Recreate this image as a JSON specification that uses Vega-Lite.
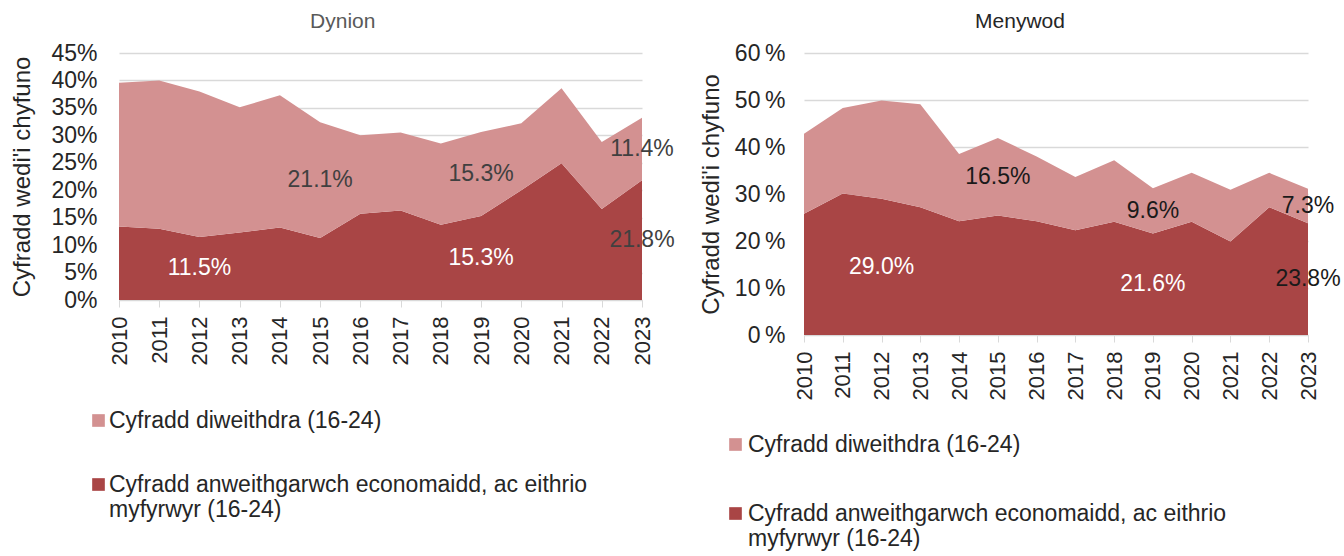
{
  "$schema": "https://vega.github.io/schema/vega-lite/v6.json",
  "background": "white",
  "padding": {"left": 10, "top": 11, "right": 0, "bottom": 0},
  "config": {
    "font": "Liberation Sans",
    "view": {"stroke": null},
    "axis": {"labelFont": "Liberation Sans", "titleFont": "Liberation Sans"},
    "legend": {"labelFont": "Liberation Sans"}
  },
  "datasets": {
    "d": [
      {"sex": "Dynion", "year": 2010, "series": "Cyfradd anweithgarwch economaidd, ac eithrio myfyrwyr (16-24)", "value": 0.134},
      {"sex": "Dynion", "year": 2011, "series": "Cyfradd anweithgarwch economaidd, ac eithrio myfyrwyr (16-24)", "value": 0.130},
      {"sex": "Dynion", "year": 2012, "series": "Cyfradd anweithgarwch economaidd, ac eithrio myfyrwyr (16-24)", "value": 0.115},
      {"sex": "Dynion", "year": 2013, "series": "Cyfradd anweithgarwch economaidd, ac eithrio myfyrwyr (16-24)", "value": 0.123},
      {"sex": "Dynion", "year": 2014, "series": "Cyfradd anweithgarwch economaidd, ac eithrio myfyrwyr (16-24)", "value": 0.132},
      {"sex": "Dynion", "year": 2015, "series": "Cyfradd anweithgarwch economaidd, ac eithrio myfyrwyr (16-24)", "value": 0.113},
      {"sex": "Dynion", "year": 2016, "series": "Cyfradd anweithgarwch economaidd, ac eithrio myfyrwyr (16-24)", "value": 0.157},
      {"sex": "Dynion", "year": 2017, "series": "Cyfradd anweithgarwch economaidd, ac eithrio myfyrwyr (16-24)", "value": 0.163},
      {"sex": "Dynion", "year": 2018, "series": "Cyfradd anweithgarwch economaidd, ac eithrio myfyrwyr (16-24)", "value": 0.137},
      {"sex": "Dynion", "year": 2019, "series": "Cyfradd anweithgarwch economaidd, ac eithrio myfyrwyr (16-24)", "value": 0.153},
      {"sex": "Dynion", "year": 2020, "series": "Cyfradd anweithgarwch economaidd, ac eithrio myfyrwyr (16-24)", "value": 0.200},
      {"sex": "Dynion", "year": 2021, "series": "Cyfradd anweithgarwch economaidd, ac eithrio myfyrwyr (16-24)", "value": 0.249},
      {"sex": "Dynion", "year": 2022, "series": "Cyfradd anweithgarwch economaidd, ac eithrio myfyrwyr (16-24)", "value": 0.166},
      {"sex": "Dynion", "year": 2023, "series": "Cyfradd anweithgarwch economaidd, ac eithrio myfyrwyr (16-24)", "value": 0.218},
      {"sex": "Dynion", "year": 2010, "series": "Cyfradd diweithdra (16-24)", "value": 0.262},
      {"sex": "Dynion", "year": 2011, "series": "Cyfradd diweithdra (16-24)", "value": 0.270},
      {"sex": "Dynion", "year": 2012, "series": "Cyfradd diweithdra (16-24)", "value": 0.265},
      {"sex": "Dynion", "year": 2013, "series": "Cyfradd diweithdra (16-24)", "value": 0.228},
      {"sex": "Dynion", "year": 2014, "series": "Cyfradd diweithdra (16-24)", "value": 0.241},
      {"sex": "Dynion", "year": 2015, "series": "Cyfradd diweithdra (16-24)", "value": 0.211},
      {"sex": "Dynion", "year": 2016, "series": "Cyfradd diweithdra (16-24)", "value": 0.143},
      {"sex": "Dynion", "year": 2017, "series": "Cyfradd diweithdra (16-24)", "value": 0.142},
      {"sex": "Dynion", "year": 2018, "series": "Cyfradd diweithdra (16-24)", "value": 0.148},
      {"sex": "Dynion", "year": 2019, "series": "Cyfradd diweithdra (16-24)", "value": 0.153},
      {"sex": "Dynion", "year": 2020, "series": "Cyfradd diweithdra (16-24)", "value": 0.122},
      {"sex": "Dynion", "year": 2021, "series": "Cyfradd diweithdra (16-24)", "value": 0.137},
      {"sex": "Dynion", "year": 2022, "series": "Cyfradd diweithdra (16-24)", "value": 0.122},
      {"sex": "Dynion", "year": 2023, "series": "Cyfradd diweithdra (16-24)", "value": 0.114},
      {"sex": "Menywod", "year": 2010, "series": "Cyfradd anweithgarwch economaidd, ac eithrio myfyrwyr (16-24)", "value": 0.258},
      {"sex": "Menywod", "year": 2011, "series": "Cyfradd anweithgarwch economaidd, ac eithrio myfyrwyr (16-24)", "value": 0.301},
      {"sex": "Menywod", "year": 2012, "series": "Cyfradd anweithgarwch economaidd, ac eithrio myfyrwyr (16-24)", "value": 0.290},
      {"sex": "Menywod", "year": 2013, "series": "Cyfradd anweithgarwch economaidd, ac eithrio myfyrwyr (16-24)", "value": 0.272},
      {"sex": "Menywod", "year": 2014, "series": "Cyfradd anweithgarwch economaidd, ac eithrio myfyrwyr (16-24)", "value": 0.242},
      {"sex": "Menywod", "year": 2015, "series": "Cyfradd anweithgarwch economaidd, ac eithrio myfyrwyr (16-24)", "value": 0.254},
      {"sex": "Menywod", "year": 2016, "series": "Cyfradd anweithgarwch economaidd, ac eithrio myfyrwyr (16-24)", "value": 0.242},
      {"sex": "Menywod", "year": 2017, "series": "Cyfradd anweithgarwch economaidd, ac eithrio myfyrwyr (16-24)", "value": 0.223},
      {"sex": "Menywod", "year": 2018, "series": "Cyfradd anweithgarwch economaidd, ac eithrio myfyrwyr (16-24)", "value": 0.241},
      {"sex": "Menywod", "year": 2019, "series": "Cyfradd anweithgarwch economaidd, ac eithrio myfyrwyr (16-24)", "value": 0.216},
      {"sex": "Menywod", "year": 2020, "series": "Cyfradd anweithgarwch economaidd, ac eithrio myfyrwyr (16-24)", "value": 0.241},
      {"sex": "Menywod", "year": 2021, "series": "Cyfradd anweithgarwch economaidd, ac eithrio myfyrwyr (16-24)", "value": 0.199},
      {"sex": "Menywod", "year": 2022, "series": "Cyfradd anweithgarwch economaidd, ac eithrio myfyrwyr (16-24)", "value": 0.272},
      {"sex": "Menywod", "year": 2023, "series": "Cyfradd anweithgarwch economaidd, ac eithrio myfyrwyr (16-24)", "value": 0.238},
      {"sex": "Menywod", "year": 2010, "series": "Cyfradd diweithdra (16-24)", "value": 0.170},
      {"sex": "Menywod", "year": 2011, "series": "Cyfradd diweithdra (16-24)", "value": 0.182},
      {"sex": "Menywod", "year": 2012, "series": "Cyfradd diweithdra (16-24)", "value": 0.209},
      {"sex": "Menywod", "year": 2013, "series": "Cyfradd diweithdra (16-24)", "value": 0.219},
      {"sex": "Menywod", "year": 2014, "series": "Cyfradd diweithdra (16-24)", "value": 0.143},
      {"sex": "Menywod", "year": 2015, "series": "Cyfradd diweithdra (16-24)", "value": 0.165},
      {"sex": "Menywod", "year": 2016, "series": "Cyfradd diweithdra (16-24)", "value": 0.138},
      {"sex": "Menywod", "year": 2017, "series": "Cyfradd diweithdra (16-24)", "value": 0.113},
      {"sex": "Menywod", "year": 2018, "series": "Cyfradd diweithdra (16-24)", "value": 0.131},
      {"sex": "Menywod", "year": 2019, "series": "Cyfradd diweithdra (16-24)", "value": 0.096},
      {"sex": "Menywod", "year": 2020, "series": "Cyfradd diweithdra (16-24)", "value": 0.104},
      {"sex": "Menywod", "year": 2021, "series": "Cyfradd diweithdra (16-24)", "value": 0.110},
      {"sex": "Menywod", "year": 2022, "series": "Cyfradd diweithdra (16-24)", "value": 0.073},
      {"sex": "Menywod", "year": 2023, "series": "Cyfradd diweithdra (16-24)", "value": 0.073}
    ]
  },
  "spacing": 24,
  "resolve": {"scale": {"color": "independent", "y": "independent"}, "legend": {"color": "independent"}},
  "hconcat": [
    {
      "title": {"text": "Dynion", "frame": "bounds", "anchor": "middle", "color": "#595959", "fontSize": 21, "fontWeight": "normal", "font": "Liberation Sans", "offset": 10},
      "width": 523,
      "height": 247,
      "data": {"name": "d"},
      "transform": [{"filter": "datum.sex === 'Dynion'"}],
      "encoding": {
        "x": {"field": "year", "type": "ordinal", "scale": {"type": "point", "padding": 0},
          "axis": {"title": null, "labelAngle": 270, "labelFontSize": 22, "labelColor": "#262626", "ticks": true, "tickColor": "#d9d9d9", "tickSize": 7, "domain": true, "domainColor": "#d9d9d9", "labelPadding": 9, "grid": false, "labelOverlap": false, "labelFlush": false}},
        "y": {"field": "value", "type": "quantitative", "stack": "zero", "scale": {"domain": [0, 0.45]},
          "axis": {"values": [0, 0.05, 0.1, 0.15, 0.2, 0.25, 0.3, 0.35, 0.4, 0.45], "format": ".0%", "labelFontSize": 23, "labelColor": "#262626", "grid": true, "gridColor": "#d9d9d9", "gridWidth": 1.5, "domain": false, "ticks": false, "labelPadding": 22, "labelOverlap": false, "title": "Cyfradd wedi'i chyfuno", "titleFontSize": 24, "titleFontWeight": "normal", "titleColor": "#262626", "titlePadding": 16}},
        "order": {"field": "series", "sort": "ascending"}
      },
      "layer": [
        {
          "mark": {"type": "area", "opacity": 1},
          "encoding": {
            "color": {"field": "series", "type": "nominal",
              "scale": {"domain": ["Cyfradd diweithdra (16-24)", "Cyfradd anweithgarwch economaidd, ac eithrio myfyrwyr (16-24)"], "range": ["#D39191", "#A94545"]},
              "legend": {"title": null, "orient": "none", "legendX": -32, "legendY": 356, "direction": "vertical", "symbolType": "square", "symbolSize": 160, "symbolStrokeWidth": 0, "labelFontSize": 23, "labelColor": "#262626", "labelOffset": -1, "labelLimit": 800, "rowPadding": 40, "labelBaseline": "middle",
                "labelExpr": "indexof(datum.label,'anweithgarwch')>=0 ? ['Cyfradd anweithgarwch economaidd, ac eithrio','myfyrwyr (16-24)'] : datum.label",
                "encode": {"labels": {"update": {"dy": {"signal": "indexof(datum.value,'anweithgarwch')>=0 ? 12.5 : 0"}}}}}
            }
          }
        },
        {
          "mark": {"type": "text", "fontSize": 23, "font": "Liberation Sans"},
          "encoding": {
            "y": {"field": "value", "type": "quantitative", "stack": "zero", "bandPosition": 0.5},
            "detail": {"field": "series"},
            "text": {"condition": {"test": "(indexof(datum.series,'diweithdra')>=0 && (datum.year==2015||datum.year==2019||datum.year==2023)) || (indexof(datum.series,'diweithdra')<0 && (datum.year==2012||datum.year==2019||datum.year==2023))", "field": "value", "type": "quantitative", "format": ".1%"}, "value": ""},
            "color": {"condition": {"test": "indexof(datum.series,'diweithdra')<0 && datum.year!=2023", "value": "#ffffff"}, "value": "#404040"}
          }
        }
      ]
    },
    {
      "title": {"text": "Menywod", "frame": "bounds", "anchor": "middle", "color": "#262626", "fontSize": 21, "fontWeight": "normal", "font": "Liberation Sans", "offset": 10},
      "width": 504,
      "height": 282,
      "data": {"name": "d"},
      "transform": [{"filter": "datum.sex === 'Menywod'"}],
      "encoding": {
        "x": {"field": "year", "type": "ordinal", "scale": {"type": "point", "padding": 0},
          "axis": {"title": null, "labelAngle": 270, "labelFontSize": 22, "labelColor": "#262626", "ticks": true, "tickColor": "#d9d9d9", "tickSize": 7, "domain": true, "domainColor": "#d9d9d9", "labelPadding": 9, "grid": false, "labelOverlap": false, "labelFlush": false}},
        "y": {"field": "value", "type": "quantitative", "stack": "zero", "scale": {"domain": [0, 0.6]},
          "axis": {"values": [0, 0.1, 0.2, 0.3, 0.4, 0.5, 0.6], "format": ".0%", "labelExpr": "replace(datum.label, '%', '\u2009%')", "labelFontSize": 23, "labelColor": "#262626", "grid": true, "gridColor": "#d9d9d9", "gridWidth": 1.5, "domain": false, "ticks": false, "labelPadding": 19, "labelOverlap": false, "title": "Cyfradd wedi'i chyfuno", "titleFontSize": 24, "titleFontWeight": "normal", "titleColor": "#262626", "titlePadding": 11}},
        "order": {"field": "series", "sort": "ascending"}
      },
      "layer": [
        {
          "mark": {"type": "area", "opacity": 1},
          "encoding": {
            "color": {"field": "series", "type": "nominal",
              "scale": {"domain": ["Cyfradd diweithdra (16-24)", "Cyfradd anweithgarwch economaidd, ac eithrio myfyrwyr (16-24)"], "range": ["#D39191", "#A94545"]},
              "legend": {"title": null, "orient": "none", "legendX": -80, "legendY": 380, "direction": "vertical", "symbolType": "square", "symbolSize": 160, "symbolStrokeWidth": 0, "labelFontSize": 23, "labelColor": "#262626", "labelOffset": 1, "labelLimit": 800, "rowPadding": 45, "labelBaseline": "middle",
                "labelExpr": "indexof(datum.label,'anweithgarwch')>=0 ? ['Cyfradd anweithgarwch economaidd, ac eithrio','myfyrwyr  (16-24)'] : datum.label",
                "encode": {"labels": {"update": {"dy": {"signal": "indexof(datum.value,'anweithgarwch')>=0 ? 12.5 : 0"}}}}}
            }
          }
        },
        {
          "mark": {"type": "text", "fontSize": 23, "font": "Liberation Sans"},
          "encoding": {
            "y": {"field": "value", "type": "quantitative", "stack": "zero", "bandPosition": 0.5},
            "detail": {"field": "series"},
            "text": {"condition": {"test": "(indexof(datum.series,'diweithdra')>=0 && (datum.year==2015||datum.year==2019||datum.year==2023)) || (indexof(datum.series,'diweithdra')<0 && (datum.year==2012||datum.year==2019||datum.year==2023))", "field": "value", "type": "quantitative", "format": ".1%"}, "value": ""},
            "color": {"condition": {"test": "indexof(datum.series,'diweithdra')<0 && datum.year!=2023", "value": "#ffffff"}, "value": "#1a1a1a"}
          }
        }
      ]
    }
  ]
}
